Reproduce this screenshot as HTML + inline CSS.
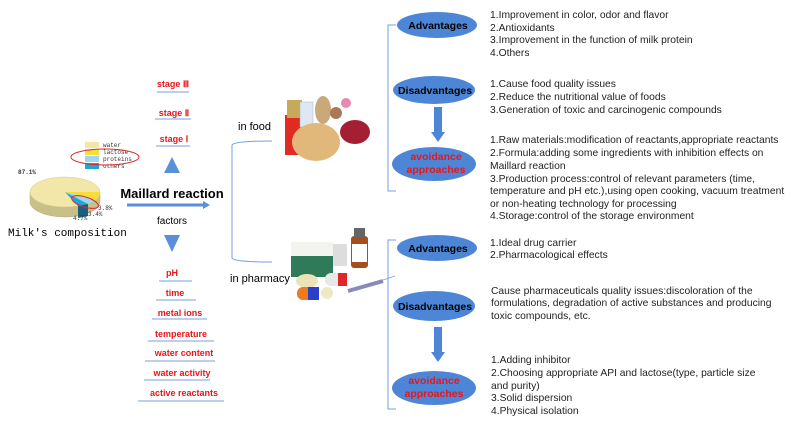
<!DOCTYPE html>
<html><head><meta charset="utf-8"><style>
body{margin:0;background:#fff;}
svg text{font-family:"Liberation Sans",sans-serif;}
</style></head><body>
<svg width="800" height="421" viewBox="0 0 800 421" xmlns="http://www.w3.org/2000/svg">
<!-- pie -->
<path d="M30,192 v10 a35,15 0 0 0 70,0 v-10" fill="#c9c089" stroke="#b8ad70" stroke-width="0.5"/>
<ellipse cx="65" cy="192" rx="35" ry="15" fill="#f3e6a9" stroke="#d8cc8a" stroke-width="0.5"/>
<path d="M65,192 L100,192 A35,15 0 0 1 96,200 Z" fill="#f7dc3a"/>
<path d="M65,192 L96,200 A35,15 0 0 1 88,204 Z" fill="#9ed7ef"/>
<path d="M65,192 L88,204 A35,15 0 0 1 78,206 Z" fill="#1da7d8"/>
<path d="M78,206 v12 l10,-2 v-12 z" fill="#1b5f7a"/>
<ellipse cx="85" cy="202" rx="14" ry="5" fill="none" stroke="#e0262a" stroke-width="1" transform="rotate(18 85 202)"/>
<rect x="85" y="142" width="14" height="6" fill="#f3e6a9"/>
<rect x="85" y="149" width="14" height="6" fill="#f7dc3a"/>
<rect x="85" y="156" width="14" height="6" fill="#9ed7ef"/>
<rect x="85" y="163" width="14" height="6" fill="#1da7d8"/>
<g font-family="Liberation Mono,monospace" font-size="6" fill="#333">
<text x="103" y="147" style="font-family:'Liberation Mono',monospace">water</text>
<text x="103" y="154" style="font-family:'Liberation Mono',monospace">lactose</text>
<text x="103" y="161" style="font-family:'Liberation Mono',monospace">proteins</text>
<text x="103" y="168" style="font-family:'Liberation Mono',monospace">others</text>
<text x="18" y="174" style="font-family:'Liberation Mono',monospace;font-weight:bold">87.1%</text>
<text x="98" y="210" style="font-family:'Liberation Mono',monospace">3.8%</text>
<text x="88" y="216" style="font-family:'Liberation Mono',monospace">3.4%</text>
<text x="73" y="220" style="font-family:'Liberation Mono',monospace">4.7%</text>
</g>
<ellipse cx="105" cy="157" rx="34" ry="8" fill="none" stroke="#e0262a" stroke-width="1"/>
<text x="8" y="236" font-size="11" style="font-family:'Liberation Mono',monospace">Milk's composition</text>

<!-- stages -->
<g fill="#e8161b" font-weight="bold" font-size="9" text-anchor="middle">
<text x="173" y="87">stage Ⅲ</text>
<text x="174" y="116">stage Ⅱ</text>
<text x="174" y="142">stage Ⅰ</text>
<text x="172" y="276">pH</text>
<text x="175" y="296">time</text>
<text x="180" y="316">metal ions</text>
<text x="181" y="337">temperature</text>
<text x="184" y="356">water content</text>
<text x="182" y="376">water activity</text>
<text x="184" y="396">active reactants</text>
</g>
<g stroke="#7a9fe0" stroke-width="1">
<line x1="157" y1="92" x2="189" y2="92"/>
<line x1="155" y1="119" x2="191" y2="119"/>
<line x1="156" y1="146" x2="190" y2="146"/>
<line x1="159" y1="281" x2="192" y2="281"/>
<line x1="156" y1="300" x2="196" y2="300"/>
<line x1="152" y1="319" x2="207" y2="319"/>
<line x1="148" y1="341" x2="214" y2="341"/>
<line x1="145" y1="361" x2="215" y2="361"/>
<line x1="144" y1="380" x2="210" y2="380"/>
<line x1="138" y1="401" x2="224" y2="401"/>
</g>
<polygon points="172,157 164,173 180,173" fill="#5b8fd9"/>
<polygon points="164,235 180,235 172,252" fill="#5b8fd9"/>
<text x="172" y="198" font-size="13" font-weight="bold" text-anchor="middle">Maillard reaction</text>
<text x="172" y="224" font-size="10" text-anchor="middle">factors</text>
<line x1="127" y1="205" x2="204" y2="205" stroke="#5b8fd9" stroke-width="3"/>
<polygon points="203,201 210,205 203,209" fill="#5b8fd9"/>

<!-- main bracket -->
<path d="M272,141 Q234,141 232,145 L232,258 Q234,262 272,262" fill="none" stroke="#7a9fe0" stroke-width="1"/>
<text x="238" y="130" font-size="11">in food</text>
<text x="230" y="282" font-size="11">in pharmacy</text>

<!-- food picture -->
<rect x="285" y="115" width="18" height="40" fill="#e02a22"/>
<rect x="287" y="100" width="15" height="18" fill="#c8a85a"/>
<rect x="300" y="102" width="13" height="25" fill="#dfe8f2" stroke="#9bb" stroke-width="0.5"/>
<ellipse cx="323" cy="110" rx="8" ry="14" fill="#c9a87a"/>
<circle cx="336" cy="113" r="6" fill="#a87a5a"/>
<ellipse cx="316" cy="142" rx="24" ry="19" fill="#e1b77a"/>
<ellipse cx="355" cy="132" rx="15" ry="12" fill="#a51f32"/>
<circle cx="346" cy="103" r="5" fill="#e88ab0"/>
<!-- pharmacy picture -->
<rect x="291" y="242" width="42" height="35" fill="#2f7a58"/>
<rect x="291" y="242" width="42" height="14" fill="#f3f3f0"/>
<rect x="333" y="244" width="14" height="22" fill="#ddd"/>
<rect x="351" y="236" width="17" height="32" fill="#a3501e" rx="3"/>
<rect x="352" y="244" width="15" height="18" fill="#fff"/>
<rect x="354" y="228" width="11" height="9" fill="#666"/>
<ellipse cx="307" cy="281" rx="11" ry="7" fill="#ece4b8"/>
<rect x="325" y="273" width="22" height="13" rx="6" fill="#e8e8e8"/>
<rect x="338" y="273" width="9" height="13" fill="#e0262a"/>
<rect x="297" y="287" width="22" height="13" rx="6" fill="#f07a1e"/>
<rect x="308" y="287" width="11" height="13" fill="#2a3fcc"/>
<circle cx="327" cy="293" r="6" fill="#eee8c4"/>
<line x1="348" y1="291" x2="383" y2="281" stroke="#8a8ab8" stroke-width="4"/>

<!-- right brackets -->
<path d="M396,25 L388,25 L388,191 L396,191" fill="none" stroke="#7a9fe0" stroke-width="1"/>
<path d="M396,240 L388,240 L388,409 L396,409" fill="none" stroke="#7a9fe0" stroke-width="1"/>
<line x1="383" y1="280" x2="395" y2="276" stroke="#7a9fe0" stroke-width="0.8"/>
<g fill="#4d86d6">
<ellipse cx="437" cy="25" rx="40" ry="13"/>
<ellipse cx="434" cy="90" rx="41" ry="14"/>
<ellipse cx="434" cy="164" rx="42" ry="17"/>
<ellipse cx="437" cy="248" rx="40" ry="13"/>
<ellipse cx="434" cy="306" rx="41" ry="15"/>
<ellipse cx="434" cy="388" rx="42" ry="17"/>
<rect x="434" y="107" width="8" height="26"/>
<polygon points="431,132 445,132 438,142"/>
<rect x="434" y="327" width="8" height="26"/>
<polygon points="431,352 445,352 438,362"/>
</g>
<g font-weight="bold" font-size="10.5" text-anchor="middle">
<text x="438" y="29">Advantages</text>
<text x="435" y="94">Disadvantages</text>
<text x="438" y="252">Advantages</text>
<text x="435" y="310">Disadvantages</text>
</g>
<g font-weight="bold" font-size="10.5" text-anchor="middle" fill="#e8161b">
<text x="436" y="160">avoidance</text>
<text x="436" y="173">approaches</text>
<text x="434" y="384">avoidance</text>
<text x="434" y="397">approaches</text>
</g>
<g font-size="10.3" fill="#222">
<text x="490" y="18">1.Improvement in color, odor and flavor</text>
<text x="490" y="31">2.Antioxidants</text>
<text x="490" y="43">3.Improvement in the function of milk protein</text>
<text x="490" y="56">4.Others</text>
<text x="490" y="87">1.Cause food quality issues</text>
<text x="490" y="100">2.Reduce the nutritional value of foods</text>
<text x="490" y="113">3.Generation of toxic and carcinogenic compounds</text>
<text x="490" y="143">1.Raw materials:modification of reactants,appropriate reactants</text>
<text x="490" y="156">2.Formula:adding some ingredients with inhibition effects on</text>
<text x="490" y="169">Maillard reaction</text>
<text x="490" y="182">3.Production process:control of relevant parameters (time,</text>
<text x="490" y="194">temperature and pH etc.),using open cooking, vacuum treatment</text>
<text x="490" y="207">or non-heating technology for processing</text>
<text x="490" y="219">4.Storage:control of the storage environment</text>
<text x="490" y="246">1.Ideal drug carrier</text>
<text x="490" y="258">2.Pharmacological effects</text>
<text x="491" y="294">Cause pharmaceuticals quality issues:discoloration of the</text>
<text x="491" y="306">formulations,  degradation of active substances and producing</text>
<text x="491" y="319">toxic compounds, etc.</text>
<text x="491" y="363">1.Adding inhibitor</text>
<text x="491" y="376">2.Choosing appropriate API and  lactose(type, particle size</text>
<text x="491" y="389">and purity)</text>
<text x="491" y="401">3.Solid dispersion</text>
<text x="491" y="414">4.Physical isolation</text>
</g>
</svg>
</body></html>
